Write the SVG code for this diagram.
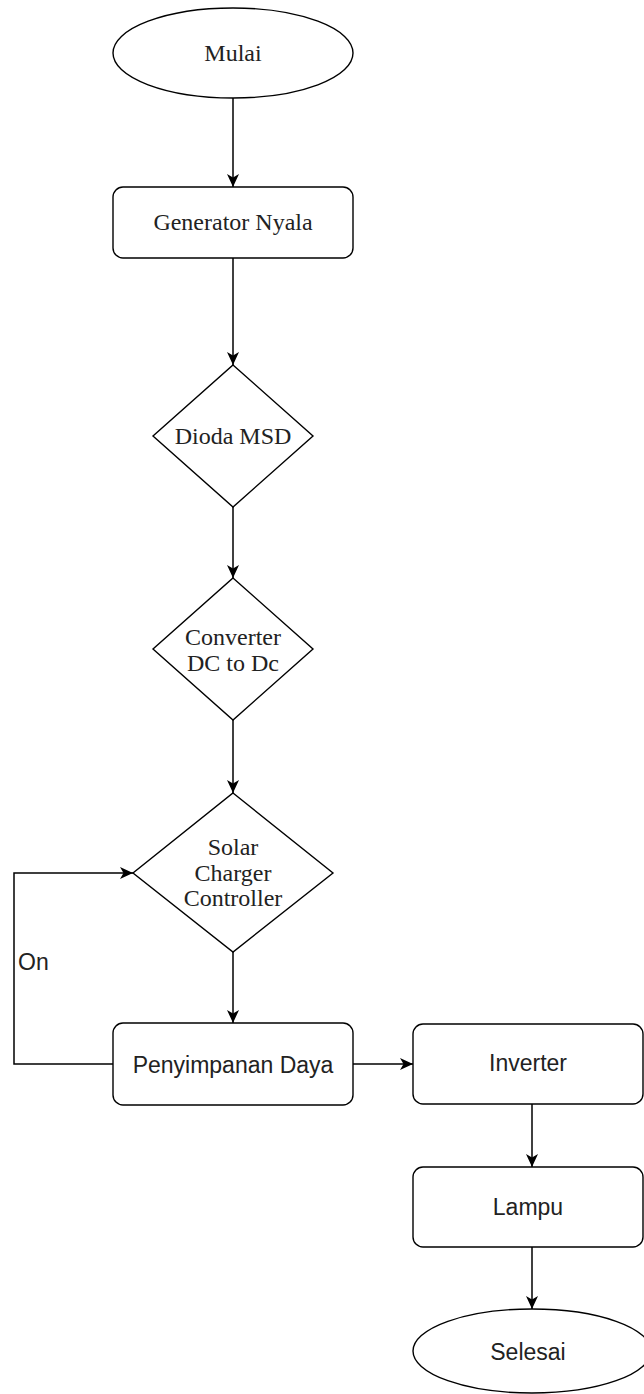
<svg xmlns="http://www.w3.org/2000/svg" width="644" height="1394" viewBox="0 0 644 1394">
<style>
.shape{fill:#fff;stroke:#000;stroke-width:1.4}
.edge{fill:none;stroke:#000;stroke-width:1.5}
.serif{font-family:"Liberation Serif","Times New Roman",serif;font-size:24px;fill:#222;text-anchor:middle}
.sans{font-family:"Liberation Sans",Arial,sans-serif;font-size:23px;fill:#222;text-anchor:middle}
</style>
<defs>
<marker id="arrow" markerUnits="userSpaceOnUse" markerWidth="16" markerHeight="16" refX="13" refY="6" orient="auto">
<path d="M0,0 L13,6 L0,12 L3.5,6 Z" fill="#000"/>
</marker>
</defs>
<rect width="644" height="1394" fill="#fff"/>
<g id="connectors">
<path class="edge" d="M233,98 L233,187" marker-end="url(#arrow)"/>
<path class="edge" d="M233,258 L233,365" marker-end="url(#arrow)"/>
<path class="edge" d="M233,507 L233,578" marker-end="url(#arrow)"/>
<path class="edge" d="M233,720 L233,793" marker-end="url(#arrow)"/>
<path class="edge" d="M233,952 L233,1023" marker-end="url(#arrow)"/>
<path class="edge" d="M113,1064 L14,1064 L14,873 L133,873" marker-end="url(#arrow)"/>
<text x="18" y="970" font-family="'Liberation Sans',Arial,sans-serif" font-size="23" fill="#222">On</text>
<path class="edge" d="M353,1064 L413,1064" marker-end="url(#arrow)"/>
<path class="edge" d="M532,1104 L532,1167" marker-end="url(#arrow)"/>
<path class="edge" d="M532,1247 L532,1309" marker-end="url(#arrow)"/>
</g>
<g id="mulai">
<ellipse class="shape" cx="233" cy="53" rx="120" ry="45"/>
<text class="serif" x="233" y="61">Mulai</text>
</g>
<g id="generator">
<rect class="shape" x="113" y="187" width="240" height="71" rx="10"/>
<text class="serif" x="233" y="230">Generator Nyala</text>
</g>
<g id="dioda">
<polygon class="shape" points="233,365 313,436 233,507 153,436"/>
<text class="serif" x="233" y="444">Dioda MSD</text>
</g>
<g id="converter">
<polygon class="shape" points="233,578 313,649 233,720 153,649"/>
<text class="serif" x="233" y="645">Converter</text>
<text class="serif" x="233" y="671">DC to Dc</text>
</g>
<g id="solar">
<polygon class="shape" points="233,793 333,873 233,952 133,873"/>
<text class="serif" x="233" y="855">Solar</text>
<text class="serif" x="233" y="881">Charger</text>
<text class="serif" x="233" y="906">Controller</text>
</g>
<g id="penyimpanan">
<rect class="shape" x="113" y="1023" width="240" height="82" rx="10"/>
<text class="sans" x="233" y="1073">Penyimpanan Daya</text>
</g>
<g id="inverter">
<rect class="shape" x="413" y="1024" width="230" height="80" rx="10"/>
<text class="sans" x="528" y="1071">Inverter</text>
</g>
<g id="lampu">
<rect class="shape" x="413" y="1167" width="230" height="80" rx="10"/>
<text class="sans" x="528" y="1215">Lampu</text>
</g>
<g id="selesai">
<ellipse class="shape" cx="532" cy="1351" rx="119" ry="42"/>
<text class="sans" x="528" y="1360">Selesai</text>
</g>
</svg>
